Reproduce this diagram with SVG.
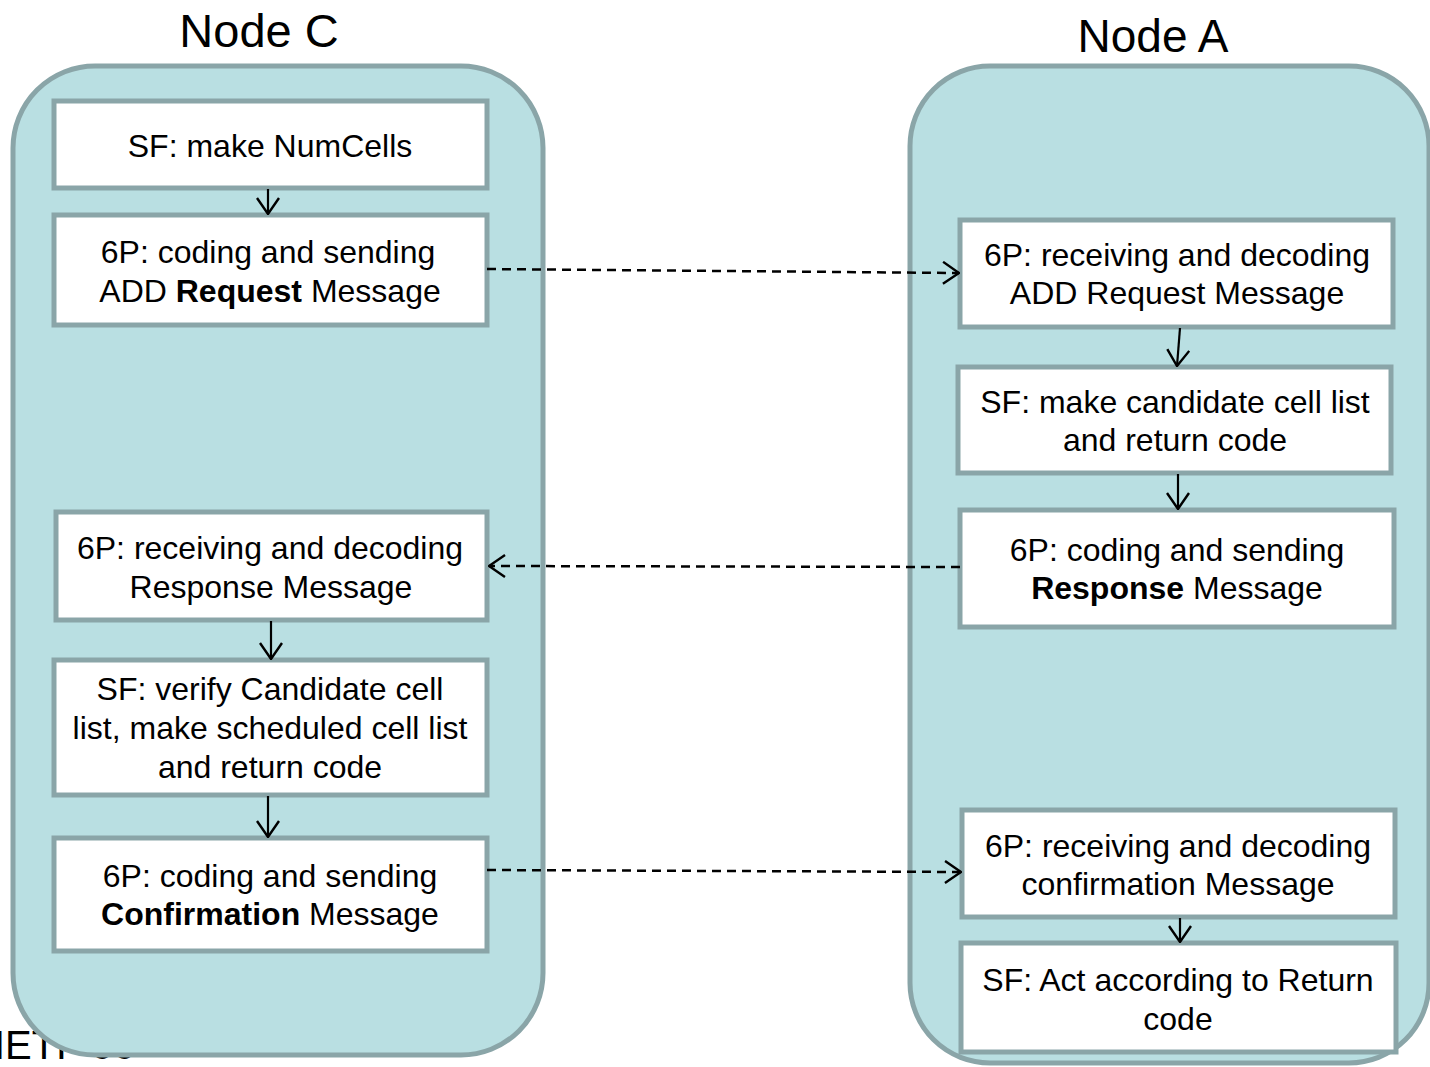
<svg xmlns="http://www.w3.org/2000/svg" width="1430" height="1067" viewBox="0 0 1430 1067">
  <style>
    .lane { fill: #b9dfe2; stroke: #8aa5a8; stroke-width: 5; }
    .box { fill: #ffffff; stroke: #8aa5a8; stroke-width: 5; }
    .title { font-family: "Liberation Sans", Arial, sans-serif; font-size: 47px; fill: #000; text-anchor: middle; }
    .t { font-family: "Liberation Sans", Arial, sans-serif; font-size: 32px; fill: #000; text-anchor: middle; }
    .b { font-weight: bold; }
    .flow { fill: none; stroke: #000; stroke-width: 2.2; marker-end: url(#head); }
    .msg { fill: none; stroke: #000; stroke-width: 2.5; stroke-dasharray: 9 6; marker-end: url(#head); }
  </style>
  <defs>
    <marker id="head" viewBox="0 0 18 24" refX="17" refY="12" markerWidth="18" markerHeight="24" markerUnits="userSpaceOnUse" orient="auto">
      <path d="M1,1 L17,12 L1,23" fill="none" stroke="#000" stroke-width="2.4"/>
    </marker>
  </defs>

  <rect width="1430" height="1067" fill="#ffffff"/>

  <!-- footer label, partly hidden behind the Node C lane -->
  <text x="-6" y="1059" font-family="Liberation Sans, Arial, sans-serif" font-size="40">IETF 99</text>

  <!-- Node C lane -->
  <g id="lane-c">
    <rect class="lane" x="13" y="66" width="530" height="989" rx="82" ry="82"/>
    <text class="title" x="259" y="47">Node C</text>
  </g>

  <!-- Node A lane -->
  <g id="lane-a">
    <rect class="lane" x="910" y="66" width="519" height="997" rx="80" ry="80"/>
    <text class="title" x="1153" y="52" style="font-size:46px">Node A</text>
  </g>

  <!-- Node C steps -->
  <g id="c-make-numcells">
    <rect class="box" x="54" y="101" width="433" height="87"/>
    <text class="t" x="270" y="157">SF: make NumCells</text>
  </g>
  <g id="c-send-request">
    <rect class="box" x="54" y="215" width="433" height="110"/>
    <text class="t" x="268" y="263">6P: coding and sending</text>
    <text class="t" x="270" y="302">ADD <tspan class="b">Request</tspan> Message</text>
  </g>
  <g id="c-recv-response">
    <rect class="box" x="56" y="512" width="431" height="108"/>
    <text class="t" x="270" y="559">6P: receiving and decoding</text>
    <text class="t" x="271" y="598">Response Message</text>
  </g>
  <g id="c-verify">
    <rect class="box" x="54" y="660" width="433" height="135"/>
    <text class="t" x="270" y="700">SF: verify Candidate cell</text>
    <text class="t" x="270" y="739">list, make scheduled cell list</text>
    <text class="t" x="270" y="778">and return code</text>
  </g>
  <g id="c-send-confirmation">
    <rect class="box" x="54" y="838" width="433" height="113"/>
    <text class="t" x="270" y="887">6P: coding and sending</text>
    <text class="t" x="270" y="925"><tspan class="b">Confirmation</tspan> Message</text>
  </g>

  <!-- Node A steps -->
  <g id="a-recv-request">
    <rect class="box" x="960" y="220" width="433" height="107"/>
    <text class="t" x="1177" y="266">6P: receiving and decoding</text>
    <text class="t" x="1177" y="304">ADD Request Message</text>
  </g>
  <g id="a-make-candidates">
    <rect class="box" x="958" y="367" width="433" height="106"/>
    <text class="t" x="1175" y="413">SF: make candidate cell list</text>
    <text class="t" x="1175" y="451">and return code</text>
  </g>
  <g id="a-send-response">
    <rect class="box" x="960" y="510" width="434" height="117"/>
    <text class="t" x="1177" y="561">6P: coding and sending</text>
    <text class="t" x="1177" y="599"><tspan class="b">Response</tspan> Message</text>
  </g>
  <g id="a-recv-confirmation">
    <rect class="box" x="962" y="810" width="433" height="107"/>
    <text class="t" x="1178" y="857">6P: receiving and decoding</text>
    <text class="t" x="1178" y="895">confirmation Message</text>
  </g>
  <g id="a-act">
    <rect class="box" x="961" y="943" width="435" height="109"/>
    <text class="t" x="1178" y="991">SF: Act according to Return</text>
    <text class="t" x="1178" y="1030">code</text>
  </g>

  <!-- connectors -->
  <g id="connectors">
    <line class="flow" x1="268" y1="189" x2="268" y2="214"/>
    <line class="flow" x1="1180" y1="328" x2="1177" y2="366"/>
    <line class="flow" x1="1178" y1="474" x2="1178" y2="509"/>
    <line class="flow" x1="271" y1="621" x2="271" y2="659"/>
    <line class="flow" x1="268" y1="796" x2="268" y2="837"/>
    <line class="flow" x1="1180" y1="918" x2="1180" y2="942"/>

    <line class="msg" x1="487" y1="269" x2="959" y2="273"/>
    <line class="msg" x1="960" y1="567" x2="489" y2="566"/>
    <line class="msg" x1="487" y1="870" x2="961" y2="872"/>
  </g>
</svg>
